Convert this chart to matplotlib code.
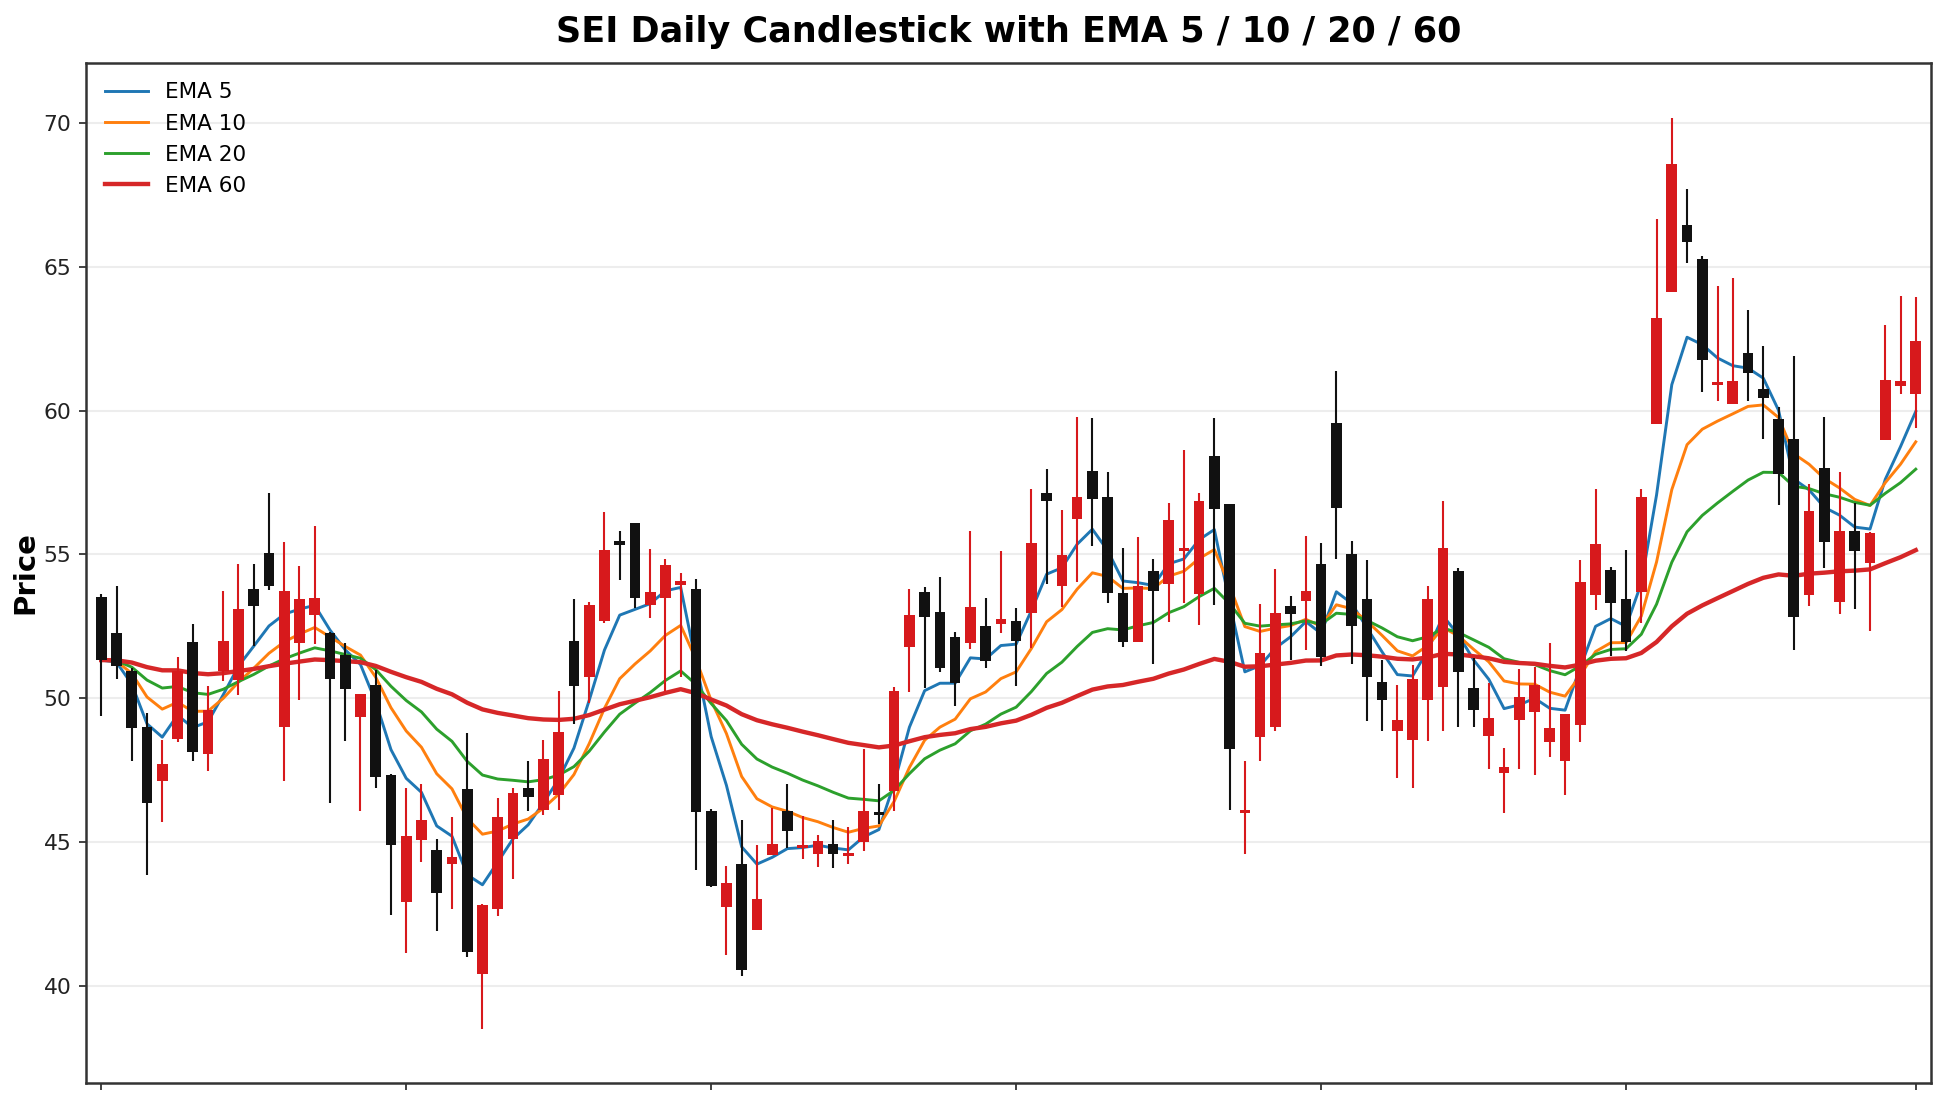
import numpy as np
import pandas as pd
import matplotlib
matplotlib.use("Agg")
import matplotlib.pyplot as plt

# daily OHLC (120 sessions)
opens = [53.52, 52.28, 50.96, 49.02, 47.13, 48.58, 51.97, 48.07, 50.96, 50.65,
         53.81, 55.05, 49.00, 51.94, 52.88, 52.28, 51.52, 49.35, 50.48, 47.35,
         42.92, 45.08, 44.72, 44.24, 46.84, 40.43, 42.69, 45.12, 46.90, 46.13,
         46.64, 52.01, 50.75, 52.68, 55.46, 56.09, 53.23, 53.49, 53.93, 53.79,
         46.10, 42.76, 44.24, 41.96, 44.55, 46.09, 44.79, 44.61, 44.95, 44.52,
         45.02, 46.01, 46.78, 51.77, 53.69, 52.99, 52.12, 51.93, 52.50, 52.60,
         52.69, 52.95, 57.13, 53.89, 56.22, 57.89, 56.99, 53.66, 51.96, 54.42,
         53.97, 55.12, 53.62, 58.41, 56.75, 46.01, 48.66, 49.00, 53.21, 53.37,
         54.67, 59.58, 55.02, 53.46, 50.58, 48.85, 48.54, 49.96, 50.41, 54.44,
         50.36, 48.71, 47.40, 49.24, 49.52, 48.48, 47.81, 49.06, 53.58, 54.47,
         53.46, 53.69, 59.53, 64.10, 66.43, 65.25, 60.87, 60.21, 62.00, 60.73,
         59.71, 59.01, 53.59, 58.00, 53.35, 55.82, 54.71, 58.97, 60.84, 60.59]
highs = [53.63, 53.91, 51.07, 49.48, 48.57, 51.43, 52.60, 50.44, 53.74, 54.68,
         54.68, 57.14, 55.44, 54.61, 56.00, 52.30, 51.91, 50.16, 50.98, 47.39,
         46.87, 47.04, 45.10, 45.87, 48.81, 42.87, 46.53, 46.87, 47.81, 48.57,
         50.24, 53.46, 53.36, 56.48, 55.82, 56.09, 55.19, 54.85, 54.36, 54.15,
         46.15, 44.17, 45.76, 44.91, 46.20, 47.02, 45.90, 45.25, 45.76, 45.52,
         48.24, 47.02, 50.39, 53.80, 53.87, 54.22, 52.30, 55.82, 53.49, 55.13,
         53.14, 57.27, 57.97, 56.55, 59.77, 59.73, 57.86, 55.22, 55.60, 54.84,
         56.78, 58.62, 57.13, 59.73, 56.75, 47.84, 53.28, 54.50, 53.55, 55.65,
         55.41, 61.36, 55.47, 54.82, 51.34, 50.47, 51.17, 53.89, 56.84, 54.54,
         51.39, 50.53, 48.27, 51.02, 51.09, 51.93, 49.46, 54.82, 57.29, 54.56,
         55.17, 57.27, 66.65, 70.15, 67.70, 65.36, 64.32, 64.61, 63.50, 62.25,
         60.12, 61.88, 57.45, 59.77, 57.87, 56.79, 55.79, 62.98, 63.98, 63.94]
lows = [49.38, 50.66, 47.81, 43.88, 45.72, 48.48, 47.84, 47.49, 50.60, 50.11,
        51.82, 53.78, 47.13, 49.93, 51.88, 46.36, 48.52, 46.10, 46.87, 42.47,
        41.16, 44.31, 41.91, 42.70, 41.03, 38.50, 42.45, 43.73, 46.10, 45.95,
        46.14, 49.10, 49.83, 52.63, 54.10, 53.13, 52.78, 50.25, 50.75, 44.05,
        43.45, 41.07, 40.35, 41.96, 44.55, 44.79, 44.41, 44.14, 44.11, 44.25,
        44.71, 45.63, 46.10, 50.23, 50.37, 50.93, 49.72, 51.72, 51.04, 52.26,
        50.42, 51.75, 53.98, 53.18, 54.06, 55.28, 53.33, 51.77, 51.96, 51.19,
        52.67, 53.33, 52.56, 53.26, 46.13, 44.61, 47.84, 48.85, 51.34, 51.69,
        51.14, 54.85, 51.21, 49.20, 48.85, 47.25, 46.90, 48.52, 48.87, 49.01,
        49.01, 47.55, 46.01, 47.53, 47.33, 47.98, 46.66, 48.49, 53.06, 51.46,
        51.65, 52.61, 59.53, 64.10, 65.13, 60.63, 60.32, 60.21, 60.33, 59.00,
        56.72, 51.67, 53.20, 54.53, 52.92, 53.11, 52.33, 58.97, 60.59, 59.40]
closes = [51.33, 51.11, 48.97, 46.36, 47.73, 50.94, 48.13, 49.58, 52.01, 53.11,
          53.20, 53.92, 53.74, 53.46, 53.49, 50.66, 50.31, 50.16, 47.27, 44.91,
          45.23, 45.76, 43.24, 44.50, 41.19, 42.83, 45.89, 46.73, 46.59, 47.90,
          48.84, 50.43, 53.25, 55.17, 55.32, 53.49, 53.69, 54.63, 54.09, 46.07,
          43.49, 43.60, 40.57, 43.04, 44.95, 45.39, 44.89, 45.06, 44.61, 44.61,
          46.09, 45.95, 50.26, 52.90, 52.81, 51.04, 50.53, 53.17, 51.29, 52.77,
          51.98, 55.39, 56.84, 54.98, 56.99, 56.92, 53.66, 51.96, 53.90, 53.73,
          56.18, 55.18, 56.85, 56.57, 48.24, 46.12, 51.57, 52.96, 52.93, 53.72,
          51.43, 56.60, 52.51, 50.76, 49.93, 49.25, 50.68, 53.46, 55.24, 50.91,
          49.59, 49.31, 47.61, 50.04, 50.46, 48.96, 49.46, 54.04, 55.36, 53.31,
          51.96, 57.00, 63.20, 68.56, 65.84, 61.77, 60.90, 61.02, 61.30, 60.43,
          57.78, 52.84, 56.50, 55.42, 55.82, 55.12, 55.75, 61.06, 61.02, 62.41]

ema_spans = [5, 10, 20, 60]
ema_colors = ["tab:blue", "tab:orange", "tab:green", "tab:red"]

df = pd.DataFrame({"open": opens, "high": highs, "low": lows, "close": closes})
x = np.arange(len(df))
up = df["close"] >= df["open"]
col = np.where(up, "#d7191c", "#111111")

fig = plt.figure(figsize=(1946 / 150, 1106 / 150), dpi=150)
ax = fig.add_axes([0.0442, 0.0208, 0.9481, 0.9222])

for span, c in zip(ema_spans, ema_colors):
    ema = df["close"].ewm(span=span, adjust=False).mean()
    lw = 2.1 if span == 60 else 1.4
    ax.plot(x, ema, color=c, lw=lw, label="EMA %d" % span, zorder=2)

ax.vlines(x, df["low"], df["high"], colors=col, lw=1.0, zorder=3)
body_lo = np.minimum(df["open"], df["close"])
body_h = np.maximum((df["close"] - df["open"]).abs(), 0.12)
ax.bar(x, body_h, bottom=body_lo, width=0.7, color=col, zorder=4)

ax.set_xlim(-1, len(df))
ax.set_ylim(36.64, 72.07)
ax.set_xticks([0, 20, 40, 60, 80, 100, len(df) - 1])
ax.set_xticklabels([])
ax.set_yticks(np.arange(40, 71, 5))
ax.tick_params(labelsize=10.5, colors="#222222")
ax.grid(axis="y", color="#e6e6e6", lw=1.0, alpha=0.7, zorder=0)
ax.set_axisbelow(True)
for s in ax.spines.values():
    s.set_color("#333333")
    s.set_linewidth(1.2)

ax.set_ylabel("Price", fontsize=14, fontweight="bold", labelpad=2)
ax.set_title("SEI Daily Candlestick with EMA 5 / 10 / 20 / 60",
             fontsize=16.8, fontweight="bold", pad=10)
ax.legend(loc="upper left", frameon=False, fontsize=10.3, labelspacing=0.52)

fig.savefig("out.png", dpi=150)
